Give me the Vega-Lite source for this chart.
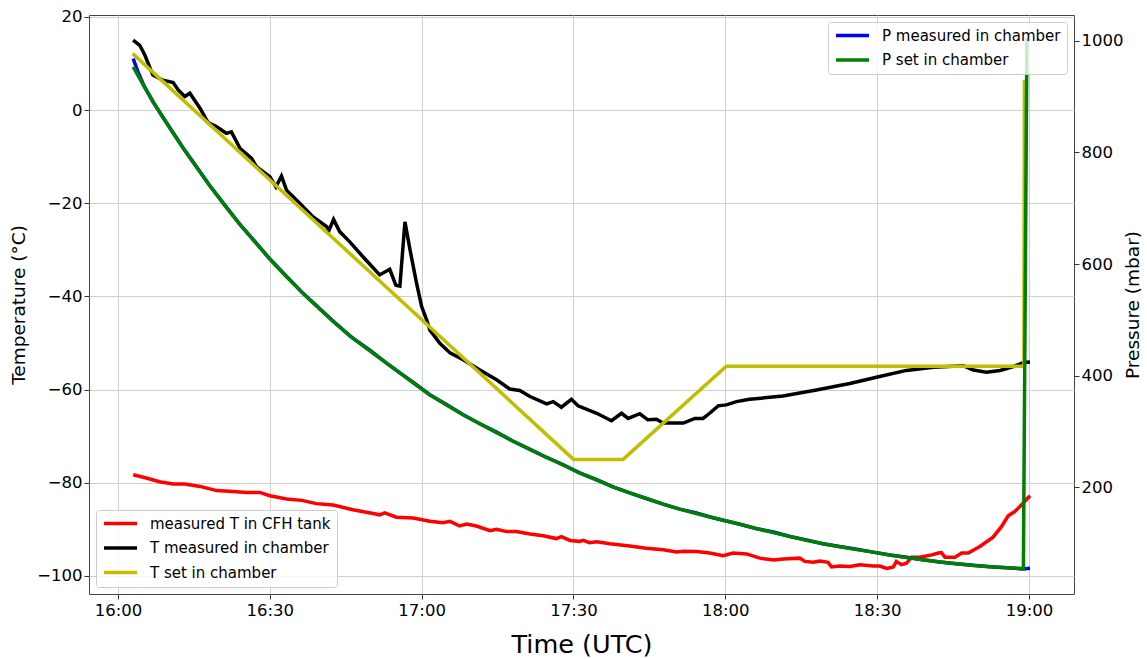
{
  "$schema": "https://vega.github.io/schema/vega-lite/v6.json",
  "width": 985,
  "height": 579,
  "autosize": {"type": "none"},
  "padding": {"left": 89, "top": 15, "right": 73, "bottom": 65},
  "background": "white",
  "config": {
    "font": "DejaVu Sans",
    "view": {"stroke": "#444", "strokeWidth": 1},
    "axis": {
      "labelFont": "DejaVu Sans", "labelFontSize": 16.5, "labelColor": "#000",
      "titleFont": "DejaVu Sans", "titleFontWeight": "normal", "titleColor": "#000",
      "tickColor": "#333", "tickSize": 5, "tickWidth": 1, "domain": false,
      "gridColor": "#cfcfcf", "gridWidth": 1
    },
    "legend": {
      "title": null, "symbolType": "stroke", "symbolStrokeWidth": 3.5, "symbolSize": 1089,
      "clipHeight": 15, "rowPadding": 8.5, "labelFont": "DejaVu Sans", "labelFontSize": 15,
      "labelColor": "#000", "labelOffset": 11, "labelLimit": 400, "padding": 6,
      "fillColor": "rgba(255,255,255,0.8)", "strokeColor": "#cccccc", "cornerRadius": 3,
      "offset": 7, "symbolOpacity": 1
    }
  },
  "datasets": {
    "temp": [
      {"minute": 3.0, "T": -78.3, "series": "measured T in CFH tank"},
      {"minute": 5.6, "T": -79.0, "series": "measured T in CFH tank"},
      {"minute": 8.2, "T": -79.8, "series": "measured T in CFH tank"},
      {"minute": 10.9, "T": -80.3, "series": "measured T in CFH tank"},
      {"minute": 13.2, "T": -80.3, "series": "measured T in CFH tank"},
      {"minute": 16.2, "T": -80.8, "series": "measured T in CFH tank"},
      {"minute": 19.5, "T": -81.7, "series": "measured T in CFH tank"},
      {"minute": 22.7, "T": -81.9, "series": "measured T in CFH tank"},
      {"minute": 25.4, "T": -82.1, "series": "measured T in CFH tank"},
      {"minute": 28.0, "T": -82.1, "series": "measured T in CFH tank"},
      {"minute": 30.0, "T": -82.8, "series": "measured T in CFH tank"},
      {"minute": 33.3, "T": -83.5, "series": "measured T in CFH tank"},
      {"minute": 36.3, "T": -83.8, "series": "measured T in CFH tank"},
      {"minute": 39.2, "T": -84.5, "series": "measured T in CFH tank"},
      {"minute": 42.5, "T": -84.8, "series": "measured T in CFH tank"},
      {"minute": 46.4, "T": -85.8, "series": "measured T in CFH tank"},
      {"minute": 50.4, "T": -86.6, "series": "measured T in CFH tank"},
      {"minute": 51.7, "T": -86.9, "series": "measured T in CFH tank"},
      {"minute": 52.7, "T": -86.5, "series": "measured T in CFH tank"},
      {"minute": 55.0, "T": -87.4, "series": "measured T in CFH tank"},
      {"minute": 58.3, "T": -87.6, "series": "measured T in CFH tank"},
      {"minute": 61.6, "T": -88.3, "series": "measured T in CFH tank"},
      {"minute": 64.2, "T": -88.6, "series": "measured T in CFH tank"},
      {"minute": 65.6, "T": -88.3, "series": "measured T in CFH tank"},
      {"minute": 67.5, "T": -89.3, "series": "measured T in CFH tank"},
      {"minute": 68.9, "T": -88.9, "series": "measured T in CFH tank"},
      {"minute": 70.8, "T": -89.3, "series": "measured T in CFH tank"},
      {"minute": 73.5, "T": -90.3, "series": "measured T in CFH tank"},
      {"minute": 74.8, "T": -90.0, "series": "measured T in CFH tank"},
      {"minute": 76.8, "T": -90.5, "series": "measured T in CFH tank"},
      {"minute": 78.7, "T": -90.5, "series": "measured T in CFH tank"},
      {"minute": 81.4, "T": -91.0, "series": "measured T in CFH tank"},
      {"minute": 84.0, "T": -91.4, "series": "measured T in CFH tank"},
      {"minute": 86.6, "T": -92.0, "series": "measured T in CFH tank"},
      {"minute": 87.6, "T": -91.6, "series": "measured T in CFH tank"},
      {"minute": 89.3, "T": -92.4, "series": "measured T in CFH tank"},
      {"minute": 91.2, "T": -92.6, "series": "measured T in CFH tank"},
      {"minute": 91.9, "T": -92.4, "series": "measured T in CFH tank"},
      {"minute": 93.2, "T": -92.9, "series": "measured T in CFH tank"},
      {"minute": 94.6, "T": -92.7, "series": "measured T in CFH tank"},
      {"minute": 97.2, "T": -93.1, "series": "measured T in CFH tank"},
      {"minute": 101.1, "T": -93.6, "series": "measured T in CFH tank"},
      {"minute": 104.4, "T": -94.1, "series": "measured T in CFH tank"},
      {"minute": 107.7, "T": -94.4, "series": "measured T in CFH tank"},
      {"minute": 110.4, "T": -94.9, "series": "measured T in CFH tank"},
      {"minute": 111.7, "T": -94.7, "series": "measured T in CFH tank"},
      {"minute": 114.3, "T": -94.8, "series": "measured T in CFH tank"},
      {"minute": 116.9, "T": -95.1, "series": "measured T in CFH tank"},
      {"minute": 119.6, "T": -95.7, "series": "measured T in CFH tank"},
      {"minute": 121.5, "T": -95.1, "series": "measured T in CFH tank"},
      {"minute": 124.2, "T": -95.3, "series": "measured T in CFH tank"},
      {"minute": 126.8, "T": -96.2, "series": "measured T in CFH tank"},
      {"minute": 129.5, "T": -96.6, "series": "measured T in CFH tank"},
      {"minute": 131.4, "T": -96.4, "series": "measured T in CFH tank"},
      {"minute": 134.7, "T": -96.2, "series": "measured T in CFH tank"},
      {"minute": 135.7, "T": -96.9, "series": "measured T in CFH tank"},
      {"minute": 137.4, "T": -97.1, "series": "measured T in CFH tank"},
      {"minute": 138.7, "T": -96.8, "series": "measured T in CFH tank"},
      {"minute": 140.3, "T": -97.1, "series": "measured T in CFH tank"},
      {"minute": 141.0, "T": -98.1, "series": "measured T in CFH tank"},
      {"minute": 142.6, "T": -97.9, "series": "measured T in CFH tank"},
      {"minute": 144.6, "T": -98.0, "series": "measured T in CFH tank"},
      {"minute": 146.6, "T": -97.6, "series": "measured T in CFH tank"},
      {"minute": 149.2, "T": -97.9, "series": "measured T in CFH tank"},
      {"minute": 150.5, "T": -97.9, "series": "measured T in CFH tank"},
      {"minute": 151.9, "T": -98.4, "series": "measured T in CFH tank"},
      {"minute": 153.2, "T": -98.1, "series": "measured T in CFH tank"},
      {"minute": 153.8, "T": -96.9, "series": "measured T in CFH tank"},
      {"minute": 154.8, "T": -97.6, "series": "measured T in CFH tank"},
      {"minute": 155.8, "T": -97.3, "series": "measured T in CFH tank"},
      {"minute": 156.8, "T": -96.0, "series": "measured T in CFH tank"},
      {"minute": 158.4, "T": -96.0, "series": "measured T in CFH tank"},
      {"minute": 160.8, "T": -95.5, "series": "measured T in CFH tank"},
      {"minute": 162.1, "T": -95.1, "series": "measured T in CFH tank"},
      {"minute": 162.7, "T": -95.0, "series": "measured T in CFH tank"},
      {"minute": 163.4, "T": -96.0, "series": "measured T in CFH tank"},
      {"minute": 165.4, "T": -96.0, "series": "measured T in CFH tank"},
      {"minute": 166.7, "T": -95.1, "series": "measured T in CFH tank"},
      {"minute": 168.0, "T": -95.1, "series": "measured T in CFH tank"},
      {"minute": 170.3, "T": -93.7, "series": "measured T in CFH tank"},
      {"minute": 172.9, "T": -91.7, "series": "measured T in CFH tank"},
      {"minute": 174.6, "T": -89.4, "series": "measured T in CFH tank"},
      {"minute": 175.9, "T": -87.1, "series": "measured T in CFH tank"},
      {"minute": 177.2, "T": -86.2, "series": "measured T in CFH tank"},
      {"minute": 178.5, "T": -84.8, "series": "measured T in CFH tank"},
      {"minute": 180.2, "T": -82.8, "series": "measured T in CFH tank"},

      {"minute": 3.0, "T": 15.0, "series": "T measured in chamber"},
      {"minute": 4.3, "T": 13.9, "series": "T measured in chamber"},
      {"minute": 5.3, "T": 11.8, "series": "T measured in chamber"},
      {"minute": 6.9, "T": 7.5, "series": "T measured in chamber"},
      {"minute": 8.9, "T": 6.4, "series": "T measured in chamber"},
      {"minute": 10.9, "T": 5.9, "series": "T measured in chamber"},
      {"minute": 11.9, "T": 4.3, "series": "T measured in chamber"},
      {"minute": 13.2, "T": 2.9, "series": "T measured in chamber"},
      {"minute": 14.2, "T": 3.6, "series": "T measured in chamber"},
      {"minute": 16.2, "T": 0.4, "series": "T measured in chamber"},
      {"minute": 17.8, "T": -2.7, "series": "T measured in chamber"},
      {"minute": 19.5, "T": -3.6, "series": "T measured in chamber"},
      {"minute": 21.4, "T": -5.0, "series": "T measured in chamber"},
      {"minute": 22.4, "T": -4.7, "series": "T measured in chamber"},
      {"minute": 24.1, "T": -8.2, "series": "T measured in chamber"},
      {"minute": 26.4, "T": -10.4, "series": "T measured in chamber"},
      {"minute": 27.4, "T": -12.2, "series": "T measured in chamber"},
      {"minute": 30.0, "T": -14.3, "series": "T measured in chamber"},
      {"minute": 31.2, "T": -16.5, "series": "T measured in chamber"},
      {"minute": 32.3, "T": -14.2, "series": "T measured in chamber"},
      {"minute": 33.3, "T": -17.2, "series": "T measured in chamber"},
      {"minute": 35.9, "T": -20.0, "series": "T measured in chamber"},
      {"minute": 38.5, "T": -22.9, "series": "T measured in chamber"},
      {"minute": 41.2, "T": -25.0, "series": "T measured in chamber"},
      {"minute": 41.7, "T": -25.8, "series": "T measured in chamber"},
      {"minute": 42.6, "T": -23.5, "series": "T measured in chamber"},
      {"minute": 43.8, "T": -26.1, "series": "T measured in chamber"},
      {"minute": 45.8, "T": -28.3, "series": "T measured in chamber"},
      {"minute": 48.4, "T": -31.5, "series": "T measured in chamber"},
      {"minute": 51.7, "T": -35.4, "series": "T measured in chamber"},
      {"minute": 53.7, "T": -34.2, "series": "T measured in chamber"},
      {"minute": 54.9, "T": -37.6, "series": "T measured in chamber"},
      {"minute": 55.7, "T": -37.8, "series": "T measured in chamber"},
      {"minute": 56.7, "T": -24.0, "series": "T measured in chamber"},
      {"minute": 57.7, "T": -30.0, "series": "T measured in chamber"},
      {"minute": 59.0, "T": -37.2, "series": "T measured in chamber"},
      {"minute": 60.0, "T": -42.2, "series": "T measured in chamber"},
      {"minute": 61.0, "T": -45.1, "series": "T measured in chamber"},
      {"minute": 61.6, "T": -47.2, "series": "T measured in chamber"},
      {"minute": 63.6, "T": -50.1, "series": "T measured in chamber"},
      {"minute": 65.6, "T": -52.1, "series": "T measured in chamber"},
      {"minute": 68.2, "T": -53.6, "series": "T measured in chamber"},
      {"minute": 71.5, "T": -55.8, "series": "T measured in chamber"},
      {"minute": 74.8, "T": -57.9, "series": "T measured in chamber"},
      {"minute": 77.4, "T": -59.9, "series": "T measured in chamber"},
      {"minute": 79.4, "T": -60.2, "series": "T measured in chamber"},
      {"minute": 81.4, "T": -61.5, "series": "T measured in chamber"},
      {"minute": 84.7, "T": -63.1, "series": "T measured in chamber"},
      {"minute": 86.0, "T": -62.6, "series": "T measured in chamber"},
      {"minute": 87.6, "T": -63.8, "series": "T measured in chamber"},
      {"minute": 89.6, "T": -62.1, "series": "T measured in chamber"},
      {"minute": 90.9, "T": -63.5, "series": "T measured in chamber"},
      {"minute": 94.6, "T": -65.1, "series": "T measured in chamber"},
      {"minute": 97.5, "T": -66.7, "series": "T measured in chamber"},
      {"minute": 99.5, "T": -65.1, "series": "T measured in chamber"},
      {"minute": 100.8, "T": -66.2, "series": "T measured in chamber"},
      {"minute": 103.1, "T": -65.2, "series": "T measured in chamber"},
      {"minute": 104.7, "T": -66.5, "series": "T measured in chamber"},
      {"minute": 106.4, "T": -66.4, "series": "T measured in chamber"},
      {"minute": 107.7, "T": -67.2, "series": "T measured in chamber"},
      {"minute": 111.7, "T": -67.2, "series": "T measured in chamber"},
      {"minute": 114.0, "T": -66.2, "series": "T measured in chamber"},
      {"minute": 115.6, "T": -66.2, "series": "T measured in chamber"},
      {"minute": 116.9, "T": -65.1, "series": "T measured in chamber"},
      {"minute": 118.6, "T": -63.5, "series": "T measured in chamber"},
      {"minute": 120.2, "T": -63.3, "series": "T measured in chamber"},
      {"minute": 122.2, "T": -62.6, "series": "T measured in chamber"},
      {"minute": 124.8, "T": -62.1, "series": "T measured in chamber"},
      {"minute": 131.4, "T": -61.4, "series": "T measured in chamber"},
      {"minute": 138.0, "T": -60.1, "series": "T measured in chamber"},
      {"minute": 144.6, "T": -58.7, "series": "T measured in chamber"},
      {"minute": 150.5, "T": -57.2, "series": "T measured in chamber"},
      {"minute": 155.8, "T": -55.9, "series": "T measured in chamber"},
      {"minute": 161.1, "T": -55.2, "series": "T measured in chamber"},
      {"minute": 167.0, "T": -54.9, "series": "T measured in chamber"},
      {"minute": 169.0, "T": -55.8, "series": "T measured in chamber"},
      {"minute": 171.6, "T": -56.3, "series": "T measured in chamber"},
      {"minute": 174.3, "T": -55.9, "series": "T measured in chamber"},
      {"minute": 176.9, "T": -55.1, "series": "T measured in chamber"},
      {"minute": 178.9, "T": -54.2, "series": "T measured in chamber"},
      {"minute": 180.2, "T": -54.1, "series": "T measured in chamber"},

      {"minute": 2.9, "T": 12.1, "series": "T set in chamber"},
      {"minute": 90.0, "T": -75.0, "series": "T set in chamber"},
      {"minute": 99.8, "T": -75.0, "series": "T set in chamber"},
      {"minute": 120.2, "T": -55.0, "series": "T set in chamber"},
      {"minute": 179.0, "T": -55.0, "series": "T set in chamber"},
      {"minute": 179.1, "T": 6.5, "series": "T set in chamber"}
    ],
    "pres": [
      {"minute": 3.0, "P": 968, "series": "P measured in chamber"},
      {"minute": 4.0, "P": 943, "series": "P measured in chamber"},
      {"minute": 5.2, "P": 918, "series": "P measured in chamber"},
      {"minute": 7.0, "P": 889, "series": "P measured in chamber"},
      {"minute": 9.0, "P": 861, "series": "P measured in chamber"},
      {"minute": 11.0, "P": 834, "series": "P measured in chamber"},
      {"minute": 13.0, "P": 806, "series": "P measured in chamber"},
      {"minute": 15.0, "P": 781, "series": "P measured in chamber"},
      {"minute": 18.0, "P": 742, "series": "P measured in chamber"},
      {"minute": 21.0, "P": 707, "series": "P measured in chamber"},
      {"minute": 24.0, "P": 672, "series": "P measured in chamber"},
      {"minute": 27.0, "P": 641, "series": "P measured in chamber"},
      {"minute": 30.0, "P": 609, "series": "P measured in chamber"},
      {"minute": 33.0, "P": 581, "series": "P measured in chamber"},
      {"minute": 36.6, "P": 547, "series": "P measured in chamber"},
      {"minute": 40.0, "P": 519, "series": "P measured in chamber"},
      {"minute": 42.5, "P": 498, "series": "P measured in chamber"},
      {"minute": 46.0, "P": 470, "series": "P measured in chamber"},
      {"minute": 49.7, "P": 446, "series": "P measured in chamber"},
      {"minute": 53.0, "P": 423, "series": "P measured in chamber"},
      {"minute": 55.7, "P": 405, "series": "P measured in chamber"},
      {"minute": 58.5, "P": 387, "series": "P measured in chamber"},
      {"minute": 61.6, "P": 366, "series": "P measured in chamber"},
      {"minute": 65.0, "P": 348, "series": "P measured in chamber"},
      {"minute": 68.2, "P": 330, "series": "P measured in chamber"},
      {"minute": 71.5, "P": 314, "series": "P measured in chamber"},
      {"minute": 74.8, "P": 299, "series": "P measured in chamber"},
      {"minute": 78.0, "P": 283, "series": "P measured in chamber"},
      {"minute": 81.4, "P": 268, "series": "P measured in chamber"},
      {"minute": 84.6, "P": 254, "series": "P measured in chamber"},
      {"minute": 87.9, "P": 241, "series": "P measured in chamber"},
      {"minute": 91.2, "P": 226, "series": "P measured in chamber"},
      {"minute": 94.6, "P": 214, "series": "P measured in chamber"},
      {"minute": 97.8, "P": 201, "series": "P measured in chamber"},
      {"minute": 101.1, "P": 190, "series": "P measured in chamber"},
      {"minute": 104.4, "P": 180, "series": "P measured in chamber"},
      {"minute": 107.7, "P": 170, "series": "P measured in chamber"},
      {"minute": 111.0, "P": 161, "series": "P measured in chamber"},
      {"minute": 114.3, "P": 154, "series": "P measured in chamber"},
      {"minute": 117.0, "P": 147, "series": "P measured in chamber"},
      {"minute": 119.6, "P": 141, "series": "P measured in chamber"},
      {"minute": 122.9, "P": 134, "series": "P measured in chamber"},
      {"minute": 126.2, "P": 126, "series": "P measured in chamber"},
      {"minute": 129.5, "P": 120, "series": "P measured in chamber"},
      {"minute": 132.8, "P": 112, "series": "P measured in chamber"},
      {"minute": 136.0, "P": 106, "series": "P measured in chamber"},
      {"minute": 139.3, "P": 99, "series": "P measured in chamber"},
      {"minute": 142.6, "P": 94, "series": "P measured in chamber"},
      {"minute": 146.0, "P": 89, "series": "P measured in chamber"},
      {"minute": 149.2, "P": 84, "series": "P measured in chamber"},
      {"minute": 152.5, "P": 79, "series": "P measured in chamber"},
      {"minute": 155.8, "P": 75, "series": "P measured in chamber"},
      {"minute": 159.0, "P": 70.5, "series": "P measured in chamber"},
      {"minute": 162.4, "P": 66.5, "series": "P measured in chamber"},
      {"minute": 165.7, "P": 63, "series": "P measured in chamber"},
      {"minute": 169.0, "P": 60.5, "series": "P measured in chamber"},
      {"minute": 172.3, "P": 58, "series": "P measured in chamber"},
      {"minute": 175.6, "P": 56, "series": "P measured in chamber"},
      {"minute": 178.9, "P": 54, "series": "P measured in chamber"},
      {"minute": 180.2, "P": 55, "series": "P measured in chamber"},

      {"minute": 3.0, "P": 953, "series": "P set in chamber"},
      {"minute": 5.0, "P": 921, "series": "P set in chamber"},
      {"minute": 7.0, "P": 890, "series": "P set in chamber"},
      {"minute": 9.0, "P": 861, "series": "P set in chamber"},
      {"minute": 11.0, "P": 833, "series": "P set in chamber"},
      {"minute": 13.0, "P": 806, "series": "P set in chamber"},
      {"minute": 15.0, "P": 780, "series": "P set in chamber"},
      {"minute": 18.0, "P": 742, "series": "P set in chamber"},
      {"minute": 21.0, "P": 706, "series": "P set in chamber"},
      {"minute": 24.0, "P": 672, "series": "P set in chamber"},
      {"minute": 27.0, "P": 640, "series": "P set in chamber"},
      {"minute": 30.0, "P": 609, "series": "P set in chamber"},
      {"minute": 33.0, "P": 580, "series": "P set in chamber"},
      {"minute": 36.6, "P": 547, "series": "P set in chamber"},
      {"minute": 40.0, "P": 518, "series": "P set in chamber"},
      {"minute": 42.5, "P": 497, "series": "P set in chamber"},
      {"minute": 46.0, "P": 470, "series": "P set in chamber"},
      {"minute": 49.7, "P": 445, "series": "P set in chamber"},
      {"minute": 53.0, "P": 423, "series": "P set in chamber"},
      {"minute": 55.7, "P": 405, "series": "P set in chamber"},
      {"minute": 58.5, "P": 386, "series": "P set in chamber"},
      {"minute": 61.6, "P": 366, "series": "P set in chamber"},
      {"minute": 65.0, "P": 347, "series": "P set in chamber"},
      {"minute": 68.2, "P": 330, "series": "P set in chamber"},
      {"minute": 71.5, "P": 314, "series": "P set in chamber"},
      {"minute": 74.8, "P": 298, "series": "P set in chamber"},
      {"minute": 78.0, "P": 283, "series": "P set in chamber"},
      {"minute": 81.4, "P": 268, "series": "P set in chamber"},
      {"minute": 84.6, "P": 254, "series": "P set in chamber"},
      {"minute": 87.9, "P": 240, "series": "P set in chamber"},
      {"minute": 91.2, "P": 226, "series": "P set in chamber"},
      {"minute": 94.6, "P": 213, "series": "P set in chamber"},
      {"minute": 97.8, "P": 201, "series": "P set in chamber"},
      {"minute": 101.1, "P": 190, "series": "P set in chamber"},
      {"minute": 104.4, "P": 180, "series": "P set in chamber"},
      {"minute": 107.7, "P": 170, "series": "P set in chamber"},
      {"minute": 111.0, "P": 161, "series": "P set in chamber"},
      {"minute": 114.3, "P": 153, "series": "P set in chamber"},
      {"minute": 117.0, "P": 147, "series": "P set in chamber"},
      {"minute": 119.6, "P": 141, "series": "P set in chamber"},
      {"minute": 122.9, "P": 134, "series": "P set in chamber"},
      {"minute": 126.2, "P": 126, "series": "P set in chamber"},
      {"minute": 129.5, "P": 119, "series": "P set in chamber"},
      {"minute": 132.8, "P": 112, "series": "P set in chamber"},
      {"minute": 136.0, "P": 105, "series": "P set in chamber"},
      {"minute": 139.3, "P": 99, "series": "P set in chamber"},
      {"minute": 142.6, "P": 93.5, "series": "P set in chamber"},
      {"minute": 146.0, "P": 88.5, "series": "P set in chamber"},
      {"minute": 149.2, "P": 84, "series": "P set in chamber"},
      {"minute": 152.5, "P": 79, "series": "P set in chamber"},
      {"minute": 155.8, "P": 74.5, "series": "P set in chamber"},
      {"minute": 159.0, "P": 70.5, "series": "P set in chamber"},
      {"minute": 162.4, "P": 66.5, "series": "P set in chamber"},
      {"minute": 165.7, "P": 63, "series": "P set in chamber"},
      {"minute": 169.0, "P": 60, "series": "P set in chamber"},
      {"minute": 172.3, "P": 57.8, "series": "P set in chamber"},
      {"minute": 175.6, "P": 56, "series": "P set in chamber"},
      {"minute": 178.9, "P": 54.5, "series": "P set in chamber"},
      {"minute": 179.6, "P": 1005, "series": "P set in chamber"}
    ]
  },
  "encoding": {
    "x": {
      "field": "minute", "type": "quantitative",
      "scale": {"domain": [-5.73, 188.9], "nice": false, "zero": false},
      "axis": {
        "values": [0, 30, 60, 90, 120, 150, 180],
        "labelExpr": "(16 + floor(datum.value / 60)) + ':' + (datum.value % 60 == 0 ? '00' : '30')",
        "title": "Time (UTC)", "titleFontSize": 25.5, "labelPadding": 3, "titlePadding": 14,
        "grid": true
      }
    }
  },
  "layer": [
    {
      "data": {"name": "temp"},
      "encoding": {
        "y": {
          "field": "T", "type": "quantitative",
          "scale": {"domain": [-103.9, 20.4], "nice": false, "zero": false},
          "axis": {
            "orient": "left", "values": [-100, -80, -60, -40, -20, 0, 20],
            "title": "Temperature (°C)", "titleFontSize": 18.5,
            "labelPadding": 2, "titlePadding": 8, "grid": true
          }
        },
        "color": {
          "field": "series", "type": "nominal",
          "scale": {
            "domain": ["measured T in CFH tank", "T measured in chamber", "T set in chamber"],
            "range": ["#ff0000", "#000000", "#bfbf00"]
          },
          "legend": {"orient": "bottom-left"}
        }
      },
      "layer": [
        {"transform": [{"filter": "datum.series === 'measured T in CFH tank'"}], "mark": {"type": "line", "strokeWidth": 3.5}},
        {"transform": [{"filter": "datum.series === 'T measured in chamber'"}], "mark": {"type": "line", "strokeWidth": 3.5}},
        {"transform": [{"filter": "datum.series === 'T set in chamber'"}], "mark": {"type": "line", "strokeWidth": 3.5}}
      ]
    },
    {
      "data": {"name": "pres"},
      "encoding": {
        "y": {
          "field": "P", "type": "quantitative",
          "scale": {"domain": [9, 1046], "nice": false, "zero": false},
          "axis": {
            "orient": "right", "values": [200, 400, 600, 800, 1000], "format": "d",
            "title": "Pressure (mbar)", "titleFontSize": 18.5, "titleAngle": 270, "titleBaseline": "top",
            "labelPadding": 2, "titlePadding": 1, "grid": false
          }
        },
        "color": {
          "field": "series", "type": "nominal",
          "scale": {
            "domain": ["P measured in chamber", "P set in chamber"],
            "range": ["#0000ff", "#008000"]
          },
          "legend": {"orient": "top-right"}
        }
      },
      "layer": [
        {"transform": [{"filter": "datum.series === 'P measured in chamber'"}], "mark": {"type": "line", "strokeWidth": 3.5}},
        {"transform": [{"filter": "datum.series === 'P set in chamber'"}], "mark": {"type": "line", "strokeWidth": 3.5}}
      ]
    }
  ],
  "resolve": {"scale": {"y": "independent", "color": "independent"}}
}
